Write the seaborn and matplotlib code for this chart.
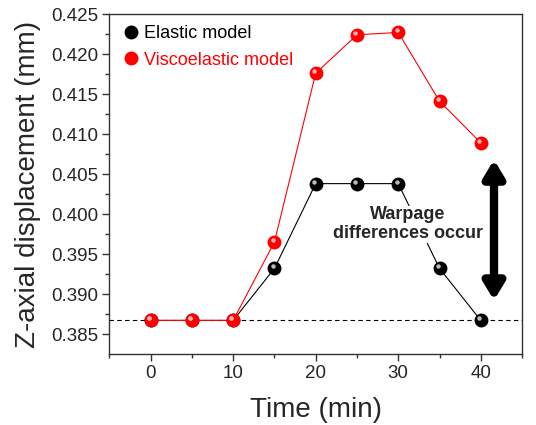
import numpy as np
import pandas as pd
import matplotlib
matplotlib.use("Agg")
import matplotlib.pyplot as plt
import matplotlib.transforms as mtransforms
import seaborn as sns

# datos
tiempo = [0, 5, 10, 15, 20, 25, 30, 35, 40]
elastico = [0.3867, 0.3867, 0.3867, 0.3932, 0.4038, 0.4038, 0.4038, 0.3932, 0.3867]
viscoelastico = [0.3867, 0.3867, 0.3867, 0.3965, 0.4176, 0.4224, 0.4227, 0.4141, 0.4089]
nivel_base = 0.3867
flecha_y = [0.4068, 0.3892]
flecha_x = 41.6

df = pd.DataFrame({
    "Time": tiempo * 2,
    "Z": elastico + viscoelastico,
    "Modelo": ["Elastic model"] * len(tiempo) + ["Viscoelastic model"] * len(tiempo),
})
colores = {"Elastic model": "black", "Viscoelastic model": "#ff0000"}

sns.set_style("ticks")
plt.rcParams["font.family"] = ["Liberation Sans", "DejaVu Sans"]

fig, ax = plt.subplots(figsize=(5.36, 4.25), dpi=100)
fig.subplots_adjust(left=0.204, right=0.974, top=0.967, bottom=0.167)

ax.axhline(nivel_base, color="black", ls=(0, (4, 3)), lw=0.8, zorder=1)

sns.lineplot(data=df, x="Time", y="Z", hue="Modelo", palette=colores,
             lw=0.8, marker="o", markersize=10, markeredgewidth=0,
             ax=ax, legend=False, zorder=3)

# brillo de las esferas
brillo = mtransforms.offset_copy(ax.transData, fig=fig, x=-1.2, y=1.4, units="points")
for nombre, vals in [("Elastic model", elastico), ("Viscoelastic model", viscoelastico)]:
    c = "#bbbbbb" if nombre == "Elastic model" else "#ffb0b0"
    ax.plot(tiempo, vals, ls="none", marker="o", ms=3.2, mfc=c, mec="none",
            transform=brillo, zorder=4)

# flecha doble
ax.annotate("", xy=(flecha_x, flecha_y[0]), xytext=(flecha_x, flecha_y[1]),
            arrowprops=dict(arrowstyle="<|-|>,head_length=1.0,head_width=0.6",
                            color="black", lw=6, shrinkA=0, shrinkB=0), zorder=5)

ax.text(31.2, 0.3987, "Warpage\ndifferences occur", ha="center", va="center",
        fontsize=13, fontweight="bold", linespacing=1.15,
        bbox=dict(facecolor="white", edgecolor="none", pad=0.5), zorder=4)

# leyenda manual
for nombre, c in colores.items():
    ax.plot([], [], ls="none", marker="o", ms=10, mfc=c, mec="none", label=nombre)
leg = ax.legend(loc="upper left", frameon=False, fontsize=13, handletextpad=0.1,
                borderaxespad=0.3, labelspacing=0.55, handlelength=1.2,
                borderpad=0.3)
for txt, c in zip(leg.get_texts(), colores.values()):
    txt.set_color(c)

ax.set_xlim(-5, 45)
ax.set_ylim(0.3825, 0.425)
ax.set_xticks([0, 10, 20, 30, 40])
ax.set_xticks([-5, 5, 15, 25, 35, 45], minor=True)
ax.set_yticks(np.arange(0.385, 0.4251, 0.005))
ax.set_yticks(np.arange(0.3875, 0.425, 0.005), minor=True)
ax.yaxis.set_major_formatter(matplotlib.ticker.FormatStrFormatter("%.3f"))
ax.tick_params(which="major", direction="out", length=5, width=1, labelsize=13.5,
               color="#333333", pad=3)
ax.tick_params(which="minor", direction="out", length=3, width=1, color="#333333")
for s in ax.spines.values():
    s.set_color("#333333")
    s.set_linewidth(1)

ax.set_xlabel("Time (min)", fontsize=20, labelpad=11)
ax.set_ylabel("Z-axial displacement (mm)", fontsize=20, labelpad=7)

fig.savefig("out.png", dpi=100)
